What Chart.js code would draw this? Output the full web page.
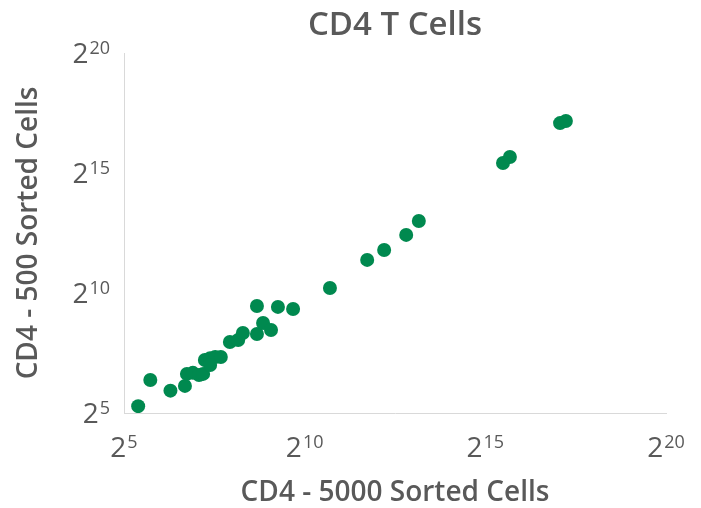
<!DOCTYPE html>
<html>
<head>
<meta charset="utf-8">
<script src="https://cdn.jsdelivr.net/npm/chart.js@4"></script>
<style>
  html, body { margin: 0; padding: 0; background: #fff; }
  #wrap { width: 701px; height: 508px; }
</style>
</head>
<body>
<div id="wrap"><canvas id="chart" width="701" height="508"></canvas></div>
<script>
// cell counts
const cells5000 = [42, 53, 78, 103, 107, 120, 135, 146, 151, 167, 184, 205, 167, 244, 286, 313,
  410, 410, 461, 537, 613, 820, 1663, 3397, 4705, 7181, 9151, 46000, 52500, 137500, 153700];
const cells500 = [39, 83, 61, 70, 99, 102, 96, 99, 148, 156, 161, 161, 128, 249, 263, 322,
  313, 704, 431, 352, 685, 644, 1184, 2665, 3541, 5480, 8192, 43800, 52100, 138500, 147400];
const tickExps = [5, 10, 15, 20];

const TEXT = '#595959';
const GREEN = '#00894F';
const FONT = '"Open Sans", sans-serif';

const points = cells5000.map((x, i) => ({ x: x, y: cells500[i] }));
const tickVals = tickExps.map(e => Math.pow(2, e));

// draws "2^n" with a raised exponent
function drawPow(ctx, exp, x, baseline, align) {
  ctx.font = '28px ' + FONT;
  const wb = ctx.measureText('2').width;
  ctx.font = '18px ' + FONT;
  const we = ctx.measureText(String(exp)).width;
  const w = wb + 1 + we;
  let left = align === 'right' ? x - w : x - w / 2;
  ctx.textAlign = 'left';
  ctx.textBaseline = 'alphabetic';
  ctx.fillStyle = TEXT;
  ctx.font = '28px ' + FONT;
  ctx.fillText('2', left, baseline);
  ctx.font = '18px ' + FONT;
  ctx.fillText(String(exp), left + wb + 1, baseline - 9);
}

const labelsPlugin = {
  id: 'labels',
  afterDraw(chart) {
    const ctx = chart.ctx;
    const area = chart.chartArea;
    const xs = chart.scales.x, ys = chart.scales.y;
    ctx.save();
    // chart title over the plot area
    ctx.fillStyle = TEXT;
    ctx.font = '600 33px ' + FONT;
    ctx.textAlign = 'center';
    ctx.textBaseline = 'middle';
    ctx.fillText('CD4 T Cells', (area.left + area.right) / 2, 26);
    tickExps.forEach((e, i) => {
      drawPow(ctx, e, xs.getPixelForValue(tickVals[i]), 457, 'center');
      drawPow(ctx, e, 110, ys.getPixelForValue(tickVals[i]) + 10, 'right');
    });
    ctx.restore();
  }
};

function fixTicks(scale) {
  scale.ticks = tickVals.map(v => ({ value: v }));
}

new Chart(document.getElementById('chart').getContext('2d'), {
  type: 'scatter',
  data: {
    datasets: [{
      label: 'CD4',
      data: points,
      backgroundColor: GREEN,
      borderColor: GREEN,
      pointRadius: 7,
      pointHoverRadius: 7,
      borderWidth: 0
    }]
  },
  options: {
    responsive: false,
    animation: false,
    layout: { padding: { top: 53, right: 35, left: 0, bottom: 0 } },
    plugins: {
      legend: { display: false },
      tooltip: { enabled: false }
    },
    scales: {
      x: {
        type: 'logarithmic',
        min: tickVals[0],
        max: tickVals[3],
        afterBuildTicks: fixTicks,
        afterFit: s => { s.height = 95; },
        grid: { display: false },
        border: { display: true, color: '#D9D9D9', width: 1 },
        ticks: { display: false },
        title: {
          display: true,
          text: 'CD4 - 5000 Sorted Cells',
          color: TEXT,
          font: { family: FONT, size: 28, weight: '600', lineHeight: 1.1 },
          padding: { top: 0, bottom: 0 }
        }
      },
      y: {
        type: 'logarithmic',
        min: tickVals[0],
        max: tickVals[3],
        afterBuildTicks: fixTicks,
        afterFit: s => { s.width = 124; },
        grid: { display: false },
        border: { display: true, color: '#D9D9D9', width: 1 },
        ticks: { display: false },
        title: {
          display: true,
          text: 'CD4 - 500 Sorted Cells',
          color: TEXT,
          font: { family: FONT, size: 28, weight: '600', lineHeight: 1.1 },
          padding: { top: 14, bottom: 0 }
        }
      }
    }
  },
  plugins: [labelsPlugin]
});
</script>
</body>
</html>
